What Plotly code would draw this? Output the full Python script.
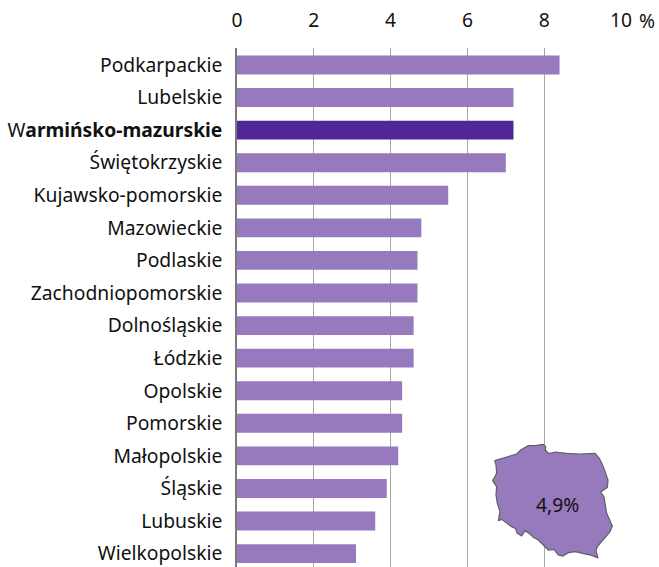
import plotly.graph_objects as go

regions = ["Podkarpackie", "Lubelskie", "W<b>armińsko-mazurskie</b>", "Świętokrzyskie",
           "Kujawsko-pomorskie", "Mazowieckie", "Podlaskie", "Zachodniopomorskie",
           "Dolnośląskie", "Łódzkie", "Opolskie", "Pomorskie", "Małopolskie",
           "Śląskie", "Lubuskie", "Wielkopolskie"]
values = [8.4, 7.2, 7.2, 7.0, 5.5, 4.8, 4.7, 4.7, 4.6, 4.6, 4.3, 4.3, 4.2, 3.9, 3.6, 3.1]
highlight = "W<b>armińsko-mazurskie</b>"
tick_vals = [0, 2, 4, 6, 8, 10]
national_label = "4,9%"

# Outline of the country, in units of the inset's own axes
map_x = [44, 80, 110, 122, 145, 170, 190, 197, 196, 207, 225, 260, 300, 345, 358, 370, 376, 384, 382,
         362, 372, 376, 380, 388, 397, 390, 365, 352, 348, 354, 335, 310, 285, 265, 248, 235, 222, 205,
         190, 175, 160, 150, 135, 125, 112, 106, 95, 80, 65, 55, 60, 52, 48, 50, 38, 50, 48, 44]
map_y = [92, 82, 72, 60, 47, 46, 43, 50, 60, 71, 66, 70, 72, 70, 85, 110, 125, 150, 172,
         186, 200, 225, 250, 268, 288, 305, 335, 350, 362, 384, 376, 370, 365, 368, 378, 375, 358, 360,
         345, 330, 322, 312, 302, 318, 310, 295, 290, 280, 268, 272, 245, 220, 195, 170, 152, 130, 105, 92]

LIGHT = "#967abd"
DARK = "#512698"
FONT = "Noto Sans, Open Sans, sans-serif"
SIZE = 19.3

fig = go.Figure()
fig.add_trace(go.Bar(
    x=values, y=regions, orientation="h", width=0.58,
    marker=dict(color=[DARK if r == highlight else LIGHT for r in regions], line=dict(width=0)),
    showlegend=False, hoverinfo="x+y",
))
fig.add_trace(go.Scatter(
    x=map_x, y=map_y, xaxis="x2", yaxis="y2", mode="lines", fill="toself",
    fillcolor=LIGHT, line=dict(color="#5f5f64", width=1.2), showlegend=False, hoverinfo="skip",
))

fig.update_layout(
    width=659, height=567, autosize=False,
    margin=dict(l=237, r=38, t=48, b=0, pad=0),
    paper_bgcolor="white", plot_bgcolor="rgba(0,0,0,0)",
    font=dict(family=FONT, size=SIZE, color="#111111"),
    bargap=0.42,
    xaxis=dict(side="top", range=[0, 10], tickvals=tick_vals, ticks="outside", ticklen=12, tickcolor="rgba(0,0,0,0)",
               showgrid=True, gridcolor="#a6a6a6", gridwidth=1, zeroline=False, showline=False, automargin=False),
    yaxis=dict(categoryorder="array", categoryarray=regions, range=[15.41, -0.52], ticks="outside", ticklen=9,
               tickcolor="rgba(0,0,0,0)", showgrid=False, zeroline=False, showline=True, linecolor="#7a7a7a",
               linewidth=1.5, automargin=False),
    xaxis2=dict(domain=[243 / 384, 1], range=[0, 423], visible=False, anchor="y2", fixedrange=True),
    yaxis2=dict(domain=[0, 137 / 519], range=[411, 0], visible=False, anchor="x2", fixedrange=True),
    annotations=[
        dict(x=10, y=1, xref="x", yref="paper", yanchor="bottom", xanchor="left", text="%", showarrow=False,
             xshift=16, yshift=12, font=dict(size=SIZE)),
        dict(x=231, y=224, xref="x2", yref="y2", text=national_label, showarrow=False, font=dict(size=SIZE)),
    ],
)
fig.write_html("out.html", config={"displayModeBar": False},
               post_script="document.body.style.margin='0';document.documentElement.style.overflow='hidden';")
